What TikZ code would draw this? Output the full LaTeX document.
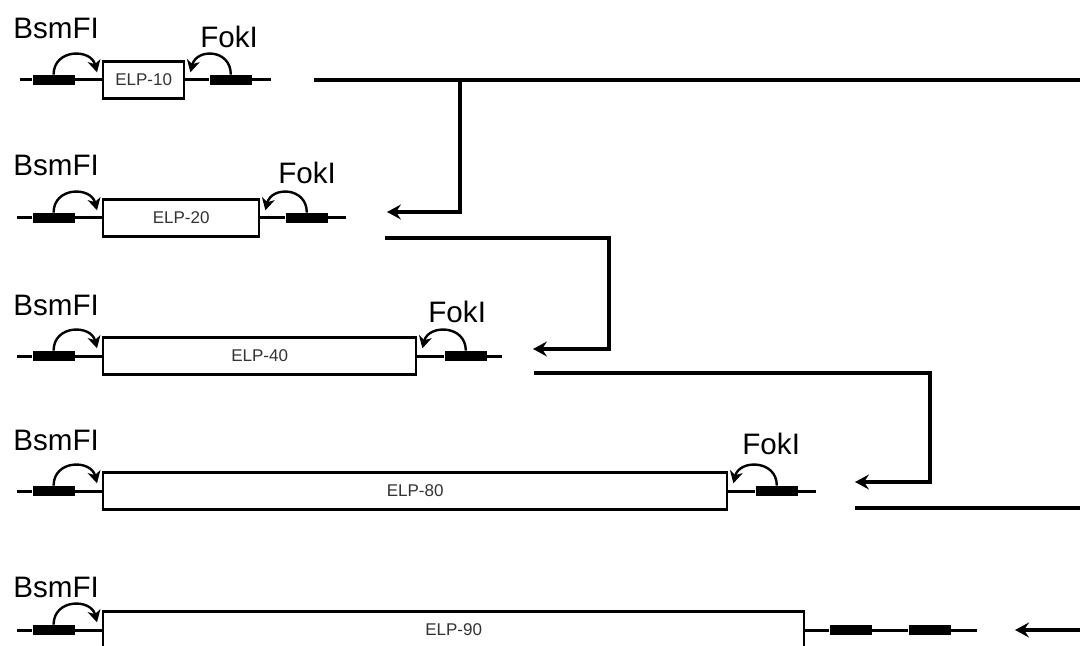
\documentclass[tikz,border=0pt]{standalone}
\usepackage{fontspec}
\setmainfont{Liberation Sans}
\usepackage{tikz}
\usetikzlibrary{arrows.meta, positioning, calc}

\tikzset{
  elpbox/.style={draw, line width=1.2pt, fill=white, anchor=west,
                 minimum height=18.5pt, inner sep=0pt,
                 font=\fontsize{8.5}{10}\selectfont, text=black!80},
  site/.style={fill=black, minimum width=21pt, minimum height=5pt, inner sep=0pt},
  enzlabel/.style={anchor=north west, inner sep=0pt, font=\fontsize{14.8}{17}\selectfont},
  dna/.style={line width=1.5pt},
  cut/.style={line width=1.2pt, -{Stealth[length=6pt, width=6.5pt, inset=1.8pt]}},
  flow/.style={line width=1.7pt, -{Stealth[length=7pt, width=7.5pt, inset=2.5pt]}},
  bar/.style={line width=1.7pt}
}

\begin{document}
\begin{tikzpicture}[x=0.5pt, y=-0.5pt]
  \useasboundingbox (0,0) rectangle (1080,646);

  % ELP-10
  \node[elpbox, minimum width=40.5pt] (elp10) at (102,80) {ELP-10};
  \node[site, left=13.5pt of elp10] (bsm10) {};
  \node[site, right=12pt of elp10] (fok10) {};
  \draw[dna] (20,80) -- (bsm10.west) (bsm10.east) -- (elp10.west)
             (elp10.east) -- (fok10.west) (fok10.east) -- ++(19,0);
  \draw[cut] (bsm10.north) .. controls +(0,-26) and +(-6,-24) .. ($(elp10.north west)+(-5,12)$);
  \draw[cut] (fok10.north) .. controls +(0,-26) and +(6,-24) .. ($(elp10.north east)+(5,12)$);
  \node[enzlabel] (bsmlab10) at (13,18) {BsmFI};
  \node[enzlabel] (foklab10) at (200,26) {FokI};

  % ELP-20
  \node[elpbox, minimum width=78pt] (elp20) at (102,218) {ELP-20};
  \node[site, left=13.5pt of elp20] (bsm20) {};
  \node[site, right=12.5pt of elp20] (fok20) {};
  \draw[dna] (17,218) -- (bsm20.west) (bsm20.east) -- (elp20.west)
             (elp20.east) -- (fok20.west) (fok20.east) -- ++(18,0);
  \draw[cut] (bsm20.north) .. controls +(0,-26) and +(-6,-24) .. ($(elp20.north west)+(-5,12)$);
  \draw[cut] (fok20.north) .. controls +(0,-26) and +(6,-24) .. ($(elp20.north east)+(5,12)$);
  \node[enzlabel] (bsmlab20) at (13,155) {BsmFI};
  \node[enzlabel] (foklab20) at (278,162) {FokI};

  % ELP-40
  \node[elpbox, minimum width=156.5pt] (elp40) at (102,356) {ELP-40};
  \node[site, left=13.5pt of elp40] (bsm40) {};
  \node[site, right=13.5pt of elp40] (fok40) {};
  \draw[dna] (17,356) -- (bsm40.west) (bsm40.east) -- (elp40.west)
             (elp40.east) -- (fok40.west) (fok40.east) -- ++(15,0);
  \draw[cut] (bsm40.north) .. controls +(0,-26) and +(-6,-24) .. ($(elp40.north west)+(-5,12)$);
  \draw[cut] (fok40.north) .. controls +(0,-26) and +(6,-24) .. ($(elp40.north east)+(5,12)$);
  \node[enzlabel] (bsmlab40) at (13,295) {BsmFI};
  \node[enzlabel] (foklab40) at (428,301) {FokI};

  % ELP-80
  \node[elpbox, minimum width=312pt] (elp80) at (102,491) {ELP-80};
  \node[site, left=13.5pt of elp80] (bsm80) {};
  \node[site, right=13.5pt of elp80] (fok80) {};
  \draw[dna] (17,491) -- (bsm80.west) (bsm80.east) -- (elp80.west)
             (elp80.east) -- (fok80.west) (fok80.east) -- ++(18,0);
  \draw[cut] (bsm80.north) .. controls +(0,-26) and +(-6,-24) .. ($(elp80.north west)+(-5,12)$);
  \draw[cut] (fok80.north) .. controls +(0,-26) and +(6,-24) .. ($(elp80.north east)+(5,12)$);
  \node[enzlabel] (bsmlab80) at (13,430) {BsmFI};
  \node[enzlabel] (foklab80) at (742,433) {FokI};

  % ELP-90
  \node[elpbox, minimum width=350.5pt] (elp90) at (102,630) {ELP-90};
  \node[site, left=13.5pt of elp90] (bsm90) {};
  \node[site, right=12pt of elp90] (fokA90) {};
  \node[site, right=18pt of fokA90] (fokB90) {};
  \draw[dna] (17,630) -- (bsm90.west) (bsm90.east) -- (elp90.west)
             (elp90.east) -- (fokA90.west) (fokA90.east) -- (fokB90.west)
             (fokB90.east) -- ++(26,0);
  \draw[cut] (bsm90.north) .. controls +(0,-26) and +(-6,-24) .. ($(elp90.north west)+(-5,12)$);
  \node[enzlabel] (bsmlab90) at (13,577) {BsmFI};

  % doubling steps
  \coordinate (out10) at (314,80);
  \coordinate (j10) at (460,80);
  \coordinate (in20) at (387,212);
  \draw[bar] (out10) -- (1080,80);
  \draw[flow] (j10) |- (in20);

  \coordinate (out20) at (385,238);
  \coordinate (in40) at (533,349);
  \draw[flow] (out20) -| (609,349) -- (in40);

  \coordinate (out40) at (534,373);
  \coordinate (in80) at (855,482);
  \draw[flow] (out40) -| (930,482) -- (in80);

  \coordinate (out80) at (855,508);
  \draw[bar] (out80) -- (1080,508);

  \coordinate (in90) at (1015,630);
  \draw[flow] (1080,630) -- (in90);
\end{tikzpicture}
\end{document}
